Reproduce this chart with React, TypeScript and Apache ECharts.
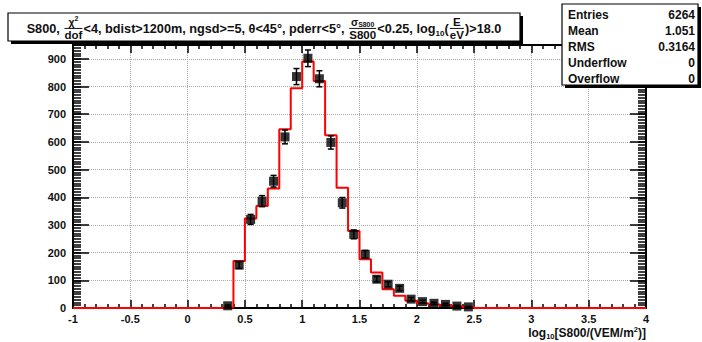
import React, { useEffect, useRef } from 'react';
import * as echarts from 'echarts';

// Histogram binning (log10 S800)
const BIN_START = 0.3;
const BIN_WIDTH = 0.1;

// Simulated distribution (red step histogram), one value per bin from 0.3 to 2.5
const simCounts = [2, 170, 323, 368, 432, 646, 794, 890, 820, 624, 434, 278, 176, 128, 68, 44, 26, 17, 13, 10, 6, 3];

// Measured data points and their vertical errors, same bins
const dataCounts = [8, 155, 320, 386, 458, 618, 836, 902, 828, 598, 380, 266, 194, 104, 86, 71, 32, 23, 17, 13, 7, 4];
const dataErrors = [3, 12, 18, 20, 21, 25, 29, 30, 29, 24, 19, 16, 14, 10, 9, 8, 6, 5, 4, 4, 3, 2];

// Statistics box
const statLabels = ['Entries', 'Mean', 'RMS', 'Underflow', 'Overflow'];
const statValues = ['6264', '1.051', '0.3164', '0', '0'];

const X_MIN = -1;
const X_MAX = 4;
const Y_MAX = 950;

const FONT = '"Liberation Sans", Arial, Helvetica, sans-serif';
const INK = '#111';

type Run = { text: string; size: number; dy?: number };
type Frac = { num: Run[]; den: Run[] };
type Piece = Run | Frac;

let measureCtx: CanvasRenderingContext2D | null = null;
function measure(text: string, size: number): number {
  if (!measureCtx) measureCtx = document.createElement('canvas').getContext('2d');
  if (!measureCtx) return text.length * size * 0.55;
  measureCtx.font = `bold ${size}px ${FONT}`;
  return measureCtx.measureText(text).width;
}

function runsWidth(runs: Run[], k: number) {
  return runs.reduce((s, r) => s + measure(r.text, r.size * k), 0);
}

function pieceWidth(p: Piece, k: number) {
  if ('num' in p) return Math.max(runsWidth(p.num, k), runsWidth(p.den, k)) + 2 * k;
  return measure(p.text, p.size * k);
}

function pushRuns(runs: Run[], x: number, y: number, k: number, out: any[]) {
  let cx = x;
  for (const r of runs) {
    out.push({
      type: 'text',
      x: cx,
      y: y + (r.dy || 0) * k,
      style: {
        text: r.text,
        fontSize: r.size * k,
        fontWeight: 'bold',
        fontFamily: FONT,
        fill: INK,
        align: 'left',
        verticalAlign: 'middle',
      },
    });
    cx += measure(r.text, r.size * k);
  }
}

function layoutLine(pieces: Piece[], k: number, x0: number, y: number, out: any[]) {
  let x = x0;
  for (const p of pieces) {
    const w = pieceWidth(p, k);
    if ('num' in p) {
      const nw = runsWidth(p.num, k);
      const dw = runsWidth(p.den, k);
      pushRuns(p.num, x + (w - nw) / 2, y - 6 * k, k, out);
      pushRuns(p.den, x + (w - dw) / 2, y + 5 * k, k, out);
      out.push({
        type: 'line',
        shape: { x1: x + k, y1: y - 0.5 * k, x2: x + w - k, y2: y - 0.5 * k },
        style: { stroke: INK, lineWidth: 1 },
      });
    } else {
      pushRuns([p], x, y, k, out);
    }
    x += w;
  }
  return x - x0;
}

function totalWidth(pieces: Piece[], k: number) {
  return pieces.reduce((s, p) => s + pieceWidth(p, k), 0);
}

const titlePieces: Piece[] = [
  { text: 'S800, ', size: 11 },
  { num: [{ text: 'χ', size: 9 }, { text: '2', size: 6, dy: -3 }], den: [{ text: 'dof', size: 10 }] },
  { text: '<4, bdist>1200m, ngsd>=5, θ<45°, pderr<5°, ', size: 11 },
  { num: [{ text: 'σ', size: 9 }, { text: 'S800', size: 6, dy: 2 }], den: [{ text: 'S800', size: 10 }] },
  { text: '<0.25, log', size: 11 },
  { text: '10', size: 7, dy: 4 },
  { text: '(', size: 11 },
  { num: [{ text: 'E', size: 10 }], den: [{ text: 'eV', size: 10 }] },
  { text: ')>18.0', size: 11 },
];

const axisTitlePieces: Piece[] = [
  { text: 'log', size: 12 },
  { text: '10', size: 7.5, dy: 3 },
  { text: '[S800/(VEM/m', size: 12 },
  { text: '2', size: 7.5, dy: -4 },
  { text: ')]', size: 12 },
];

function buildGraphics() {
  const out: any[] = [];

  // Title box with drop shadow
  const tb = { x: 8, y: 13, w: 512, h: 28 };
  out.push({ type: 'rect', shape: { x: tb.x + 3, y: tb.y + 3, width: tb.w, height: tb.h }, style: { fill: '#000' } });
  out.push({ type: 'rect', shape: { x: tb.x, y: tb.y, width: tb.w, height: tb.h }, style: { fill: '#fff', stroke: '#000', lineWidth: 1.2 } });
  const targetW = 475;
  const k = targetW / totalWidth(titlePieces, 1);
  const tw = totalWidth(titlePieces, k);
  layoutLine(titlePieces, k, tb.x + (tb.w - tw) / 2, 29, out);

  // Statistics box with drop shadow
  const sb = { x: 562, y: 4, w: 136, h: 81 };
  out.push({ type: 'rect', shape: { x: sb.x + 3, y: sb.y + 3, width: sb.w, height: sb.h }, style: { fill: '#000' } });
  out.push({ type: 'rect', shape: { x: sb.x, y: sb.y, width: sb.w, height: sb.h }, style: { fill: '#fff', stroke: '#000', lineWidth: 1.2 } });
  statLabels.forEach((lab, i) => {
    const y = 15 + i * 16;
    out.push({ type: 'text', x: sb.x + 6, y, style: { text: lab, fontSize: 12, fontWeight: 'bold', fontFamily: FONT, fill: INK, align: 'left', verticalAlign: 'middle' } });
    out.push({ type: 'text', x: sb.x + sb.w - 3, y, style: { text: statValues[i], fontSize: 12, fontWeight: 'bold', fontFamily: FONT, fill: INK, align: 'right', verticalAlign: 'middle' } });
  });

  // X-axis title, right aligned to the axis end, below the tick labels
  const aw = totalWidth(axisTitlePieces, 1);
  layoutLine(axisTitlePieces, 1, 646 - aw, 333, out);

  // keep the boxes above the frame and axes
  return out.map((e) => ({ ...e, z: 100 }));
}

const round2 = (v: number) => Math.round(v * 100) / 100;

export default function App() {
  const ref = useRef<HTMLDivElement>(null);

  useEffect(() => {
    if (!ref.current) return;
    const chart = echarts.init(ref.current, undefined, { renderer: 'svg' });

    const stepData: number[][] = [[X_MIN, 0]];
    simCounts.forEach((c, i) => stepData.push([round2(BIN_START + i * BIN_WIDTH), c]));
    stepData.push([round2(BIN_START + simCounts.length * BIN_WIDTH), 0], [X_MAX, 0]);

    const centers = dataCounts.map((_, i) => round2(BIN_START + (i + 0.5) * BIN_WIDTH));
    const points = dataCounts.map((v, i) => [centers[i], v]);
    const errBars = dataCounts.map((v, i) => [centers[i], v - dataErrors[i], v + dataErrors[i]]);

    const tickStyle = { color: '#000', width: 1.5 };
    const frameLine = { show: true, onZero: false, lineStyle: { color: '#000', width: 2 } };
    const labelStyle = { color: INK, fontSize: 11, fontWeight: 'bold' as const, fontFamily: FONT };

    chart.setOption({
      animation: false,
      backgroundColor: '#fff',
      grid: { left: 73, right: 56, top: 45, bottom: 34 },
      xAxis: [
        {
          type: 'value', position: 'bottom', min: X_MIN, max: X_MAX, interval: 0.5,
          axisLine: frameLine,
          axisTick: { show: true, inside: true, length: 8, lineStyle: tickStyle },
          minorTick: { show: true, splitNumber: 5, length: 4, lineStyle: tickStyle },
          splitLine: { show: true, lineStyle: { color: '#aaa', type: 'dotted', width: 1 } },
          axisLabel: { ...labelStyle, margin: 5 },
        },
        {
          type: 'value', position: 'top', min: X_MIN, max: X_MAX, interval: 0.5,
          axisLine: frameLine,
          axisTick: { show: true, inside: true, length: 8, lineStyle: tickStyle },
          minorTick: { show: true, splitNumber: 5, length: 4, lineStyle: tickStyle },
          splitLine: { show: false },
          axisLabel: { show: false },
        },
      ],
      yAxis: [
        {
          type: 'value', position: 'left', min: 0, max: Y_MAX, interval: 100,
          axisLine: frameLine,
          axisTick: { show: true, inside: true, length: 16, lineStyle: tickStyle },
          splitLine: { show: true, lineStyle: { color: '#aaa', type: 'dotted', width: 1 } },
          axisLabel: { ...labelStyle, margin: 7, formatter: (v: number) => (v % 100 === 0 ? String(v) : '') },
        },
        {
          type: 'value', position: 'left', min: 0, max: Y_MAX, interval: 10,
          axisLine: { show: false, onZero: false },
          axisTick: { show: true, inside: true, length: 8, lineStyle: tickStyle },
          splitLine: { show: false },
          axisLabel: { show: false },
        },
        {
          type: 'value', position: 'right', min: 0, max: Y_MAX, interval: 100,
          axisLine: frameLine,
          axisTick: { show: true, inside: true, length: 16, lineStyle: tickStyle },
          splitLine: { show: false },
          axisLabel: { show: false },
        },
        {
          type: 'value', position: 'right', min: 0, max: Y_MAX, interval: 10,
          axisLine: { show: false, onZero: false },
          axisTick: { show: true, inside: true, length: 8, lineStyle: tickStyle },
          splitLine: { show: false },
          axisLabel: { show: false },
        },
      ],
      series: [
        {
          name: 'simulation',
          type: 'line',
          step: 'end',
          data: stepData,
          symbol: 'none',
          lineStyle: { color: '#ff0000', width: 2 },
          z: 3,
        },
        {
          name: 'errors',
          type: 'custom',
          data: errBars,
          encode: { x: 0, y: [1, 2] },
          z: 4,
          renderItem: (_params: any, api: any) => {
            const x = api.value(0);
            const top = api.coord([x, api.value(2)]);
            const bot = api.coord([x, api.value(1)]);
            const cap = 3;
            const style = { stroke: '#000', lineWidth: 1.5 };
            return {
              type: 'group',
              children: [
                { type: 'line', shape: { x1: top[0], y1: top[1], x2: bot[0], y2: bot[1] }, style },
                { type: 'line', shape: { x1: top[0] - cap, y1: top[1], x2: top[0] + cap, y2: top[1] }, style },
                { type: 'line', shape: { x1: bot[0] - cap, y1: bot[1], x2: bot[0] + cap, y2: bot[1] }, style },
              ],
            };
          },
        },
        {
          name: 'data',
          type: 'scatter',
          data: points,
          symbol: 'rect',
          symbolSize: 9,
          itemStyle: { color: '#000' },
          z: 5,
        },
      ],
      graphic: buildGraphics(),
    });

    return () => chart.dispose();
  }, []);

  return <div ref={ref} style={{ width: 702, height: 342, position: 'absolute', left: 0, top: 0 }} />;
}
